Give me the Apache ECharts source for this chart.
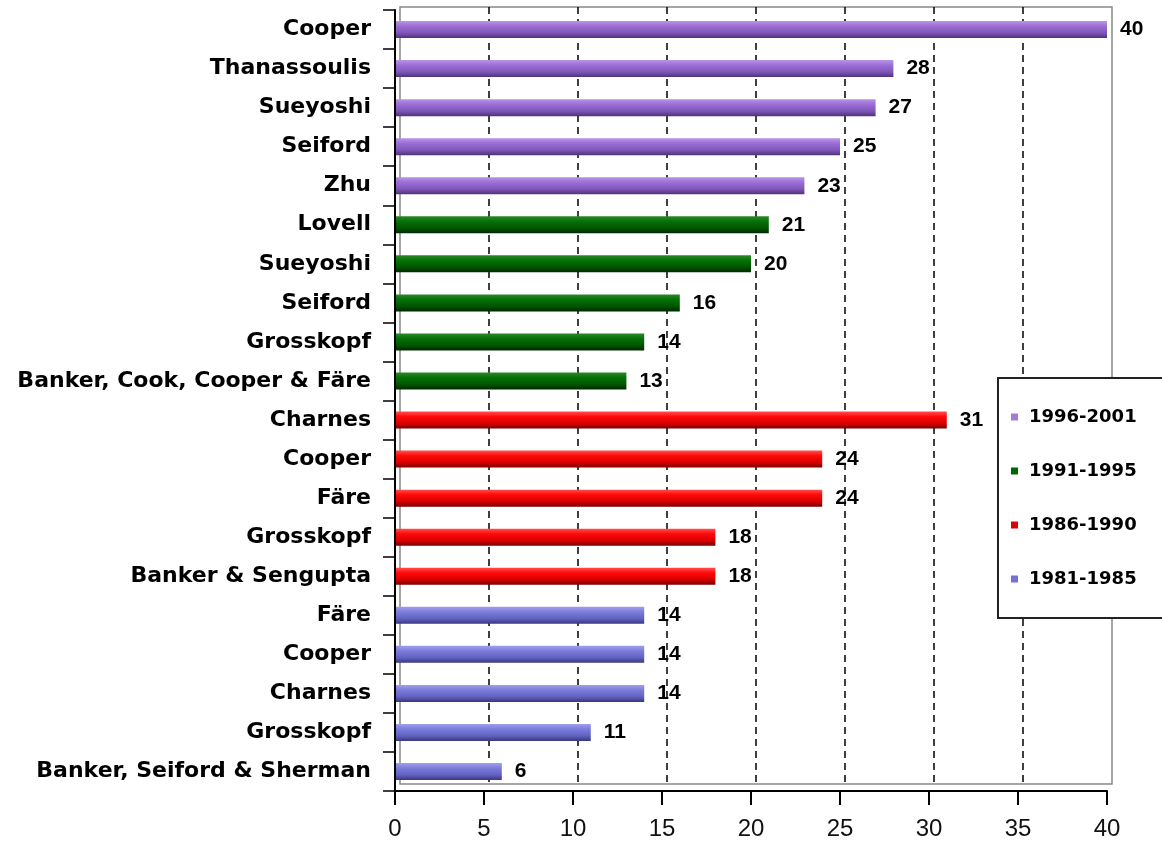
<!DOCTYPE html>
<html>
<head>
<meta charset="utf-8">
<script src="https://cdn.jsdelivr.net/npm/echarts@6/dist/echarts.min.js"></script>
<style>
html,body{margin:0;padding:0;background:#fff;}
#chart{width:1162px;height:843px;}
</style>
</head>
<body>
<div id="chart"></div>
<script>
const categories = ["Cooper","Thanassoulis","Sueyoshi","Seiford","Zhu","Lovell","Sueyoshi","Seiford","Grosskopf","Banker, Cook, Cooper & Färe","Charnes","Cooper","Färe","Grosskopf","Banker & Sengupta","Färe","Cooper","Charnes","Grosskopf","Banker, Seiford & Sherman"];
const values = [40,28,27,25,23,21,20,16,14,13,31,24,24,18,18,14,14,14,11,6];
const groupNames = ["1996-2001","1991-1995","1986-1990","1981-1985"];
const groupOf = [0,0,0,0,0,1,1,1,1,1,2,2,2,2,2,3,3,3,3,3];
const xTicks = [0,5,10,15,20,25,30,35,40];

const gradStops = [
  ['#b894e8','#9c6ed6','#7f56b8','#4e3278'],
  ['#2a8a2a','#067206','#005500','#002800'],
  ['#ff5050','#ff0a0a','#d80000','#7a0000'],
  ['#a0a0ee','#7c7cdc','#6262c0','#383880']
];
const flatColors = ['#a57ad6','#006600','#dd0000','#7474d0'];

function grad(c){
  return new echarts.graphic.LinearGradient(0,0,0,1,[
    {offset:0,color:c[0]},{offset:0.3,color:c[1]},{offset:0.7,color:c[2]},{offset:1,color:c[3]}
  ]);
}

const series = groupNames.map((name,g)=>({
  name:name,
  type:'bar',
  stack:'all',
  xAxisIndex:0,yAxisIndex:0,
  barWidth:17,
  itemStyle:{color:grad(gradStops[g])},
  label:{show:true,position:'right',distance:13,color:'#000',
    fontFamily:'Liberation Sans',fontWeight:'bold',fontSize:21},
  data:values.map((v,i)=>groupOf[i]===g?v:'-')
}));

const chart = echarts.init(document.getElementById('chart'),null,{renderer:'canvas'});
chart.setOption({
  animation:false,
  backgroundColor:'#fff',
  grid:[
    {left:395,right:55,top:10,bottom:52,containLabel:false},
    {left:400,right:50,top:7,bottom:59,show:true,borderColor:'#888',borderWidth:1.5,backgroundColor:'transparent'}
  ],
  xAxis:[
    {type:'value',gridIndex:0,min:0,max:40,interval:5,
      axisLine:{show:true,lineStyle:{color:'#000',width:2}},
      axisTick:{show:true,length:14,lineStyle:{color:'#000',width:2}},
      axisLabel:{color:'#111',fontFamily:'Liberation Sans',fontSize:24,margin:26,
        formatter:v=>xTicks.indexOf(v)>=0?String(v):''},
      splitLine:{show:false}},
    {type:'value',gridIndex:1,min:0,max:40,interval:5,
      axisLine:{show:false},axisTick:{show:false},axisLabel:{show:false},
      splitLine:{show:true,showMinLine:false,showMaxLine:false,lineStyle:{color:'#000',width:1.5,type:[7,5]}}}
  ],
  yAxis:[
    {type:'category',gridIndex:0,data:categories,inverse:true,
      axisLine:{show:true,lineStyle:{color:'#000',width:2}},
      axisTick:{show:true,length:12,lineStyle:{color:'#000',width:1.5}},
      axisLabel:{color:'#000',fontFamily:'DejaVu Sans',fontWeight:'bold',fontSize:22,margin:24},
      z:5},
    {type:'category',gridIndex:1,data:categories,inverse:true,show:false}
  ],
  legend:{
    orient:'vertical',left:998,top:378,
    data:groupNames.map((n,g)=>({name:n,itemStyle:{color:flatColors[g]}})),
    icon:'rect',itemWidth:7,itemHeight:7,itemGap:36,
    padding:[30,44,30,13],
    backgroundColor:'#fff',borderColor:'#222',borderWidth:2,
    textStyle:{color:'#000',fontFamily:'DejaVu Sans',fontWeight:'bold',fontSize:18,padding:[0,0,0,6]}
  },
  series:series
});
</script>
</body>
</html>
